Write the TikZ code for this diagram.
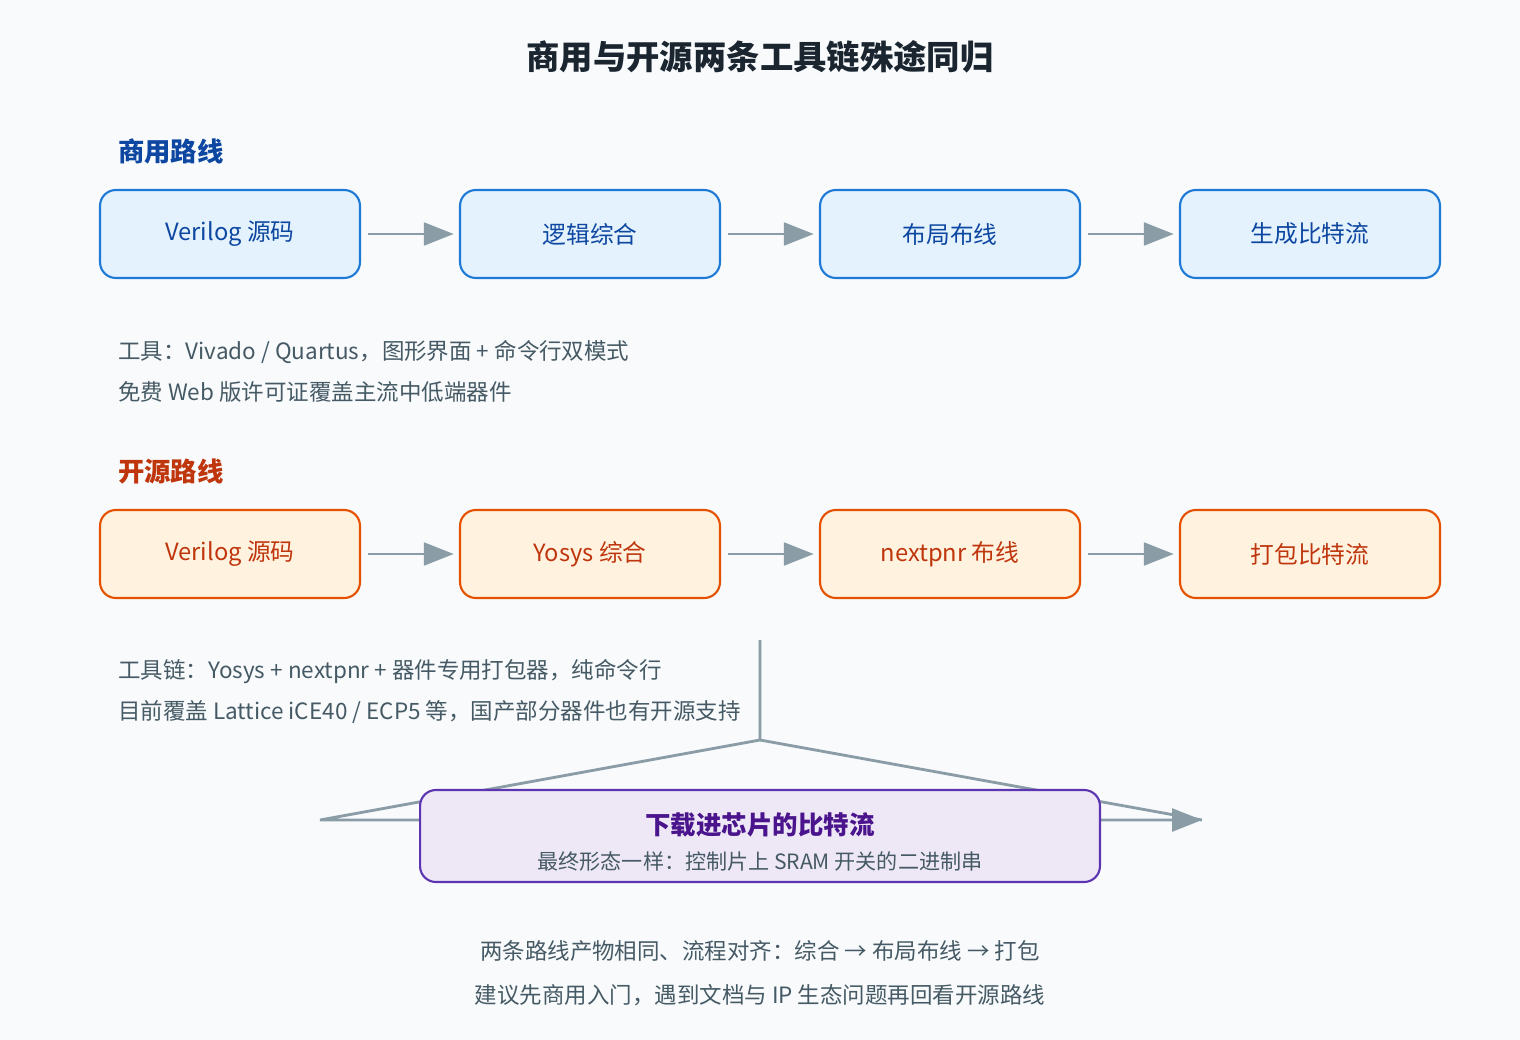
\documentclass[tikz,border=0pt]{standalone}
\usepackage{fontspec}
\setmainfont{Noto Sans CJK SC}
\usetikzlibrary{arrows.meta}
\definecolor{bg}{HTML}{F8FAFC}
\definecolor{bfill}{HTML}{E3F2FD}\definecolor{bdraw}{HTML}{1E7AD6}\definecolor{btext}{HTML}{0D47A1}
\definecolor{ofill}{HTML}{FFF3E0}\definecolor{odraw}{HTML}{E65100}\definecolor{otext}{HTML}{BF360C}
\definecolor{pfill}{HTML}{EEE7F6}\definecolor{pdraw}{HTML}{5E35B1}\definecolor{ptext}{HTML}{4A148C}
\definecolor{arr}{HTML}{8A9CA6}\definecolor{body}{HTML}{455A64}\definecolor{ttl}{HTML}{1A2530}
\begin{document}
\begin{tikzpicture}[x=0.02cm,y=-0.02cm,
 box/.style={rounded corners=9pt,line width=1.2pt,minimum width=5.2cm,minimum height=1.76cm,font=\fontsize{13.5}{16}\selectfont},
 bbox/.style={box,fill=bfill,draw=bdraw,text=btext},
 obox/.style={box,fill=ofill,draw=odraw,text=otext},
 ar/.style={draw=arr,line width=1.6pt,-{Triangle[length=17pt,width=13pt]}},
 txt/.style={anchor=west,text=body,font=\fontsize{12.8}{15}\selectfont},
 head/.style={anchor=west,font=\fontsize{15}{18}\selectfont\bfseries}]
\fill[bg] (0,0) rectangle (1520,1040);
\node[text=ttl,font=\fontsize{19}{22}\selectfont\bfseries] (title) at (760,57) {商用与开源两条工具链殊途同归};
\node[head,text=btext] (h1) at (112,151) {商用路线};
\foreach \i/\t [count=\k] in {230/Verilog 源码,590/逻辑综合,950/布局布线,1310/生成比特流}
  \node[bbox] (b\k) at (\i,234) {\t};
\foreach \a/\b in {1/2,2/3,3/4} \draw[ar] ([xshift=4pt]b\a.east) -- ([xshift=-3pt]b\b.west);
\node[txt] (t1) at (112,352) {工具：Vivado / Quartus，图形界面 + 命令行双模式};
\node[txt] (t2) at (112,392) {免费 Web 版许可证覆盖主流中低端器件};
\node[head,text=otext] (h2) at (112,471) {开源路线};
\foreach \i/\t [count=\k] in {230/Verilog 源码,590/Yosys 综合,950/nextpnr 布线,1310/打包比特流}
  \node[obox] (o\k) at (\i,554) {\t};
\foreach \a/\b in {1/2,2/3,3/4} \draw[ar] ([xshift=4pt]o\a.east) -- ([xshift=-3pt]o\b.west);
\node[txt] (t3) at (112,672) {工具链：Yosys + nextpnr + 器件专用打包器，纯命令行};
\node[txt] (t4) at (112,712) {目前覆盖 Lattice iCE40 / ECP5 等，国产部分器件也有开源支持};
\coordinate (top) at (760,640);
\coordinate (apex) at (760,740);
\coordinate (lft) at (320,820);
\coordinate (rgt) at (1202,820);
\draw[ar] (top) -- (apex) -- (lft) -- (rgt);
\draw[draw=arr,line width=1.6pt] (apex) -- (rgt);
\node[rounded corners=9pt,line width=1.2pt,fill=pfill,draw=pdraw,minimum width=13.6cm,minimum height=1.84cm] (fin) at (760,836) {};
\node[text=ptext,font=\fontsize{14.5}{17}\selectfont\bfseries] (f1) at (760,825) {下载进芯片的比特流};
\node[text=body,font=\fontsize{12}{14}\selectfont] (f2) at (760,862) {最终形态一样：控制片上 SRAM 开关的二进制串};
\node[text=body,font=\fontsize{12.8}{15}\selectfont] (n1) at (760,951) {两条路线产物相同、流程对齐：综合 → 布局布线 → 打包};
\node[text=body,font=\fontsize{12.8}{15}\selectfont] (n2) at (760,995) {建议先商用入门，遇到文档与 IP 生态问题再回看开源路线};
\end{tikzpicture}
\end{document}
